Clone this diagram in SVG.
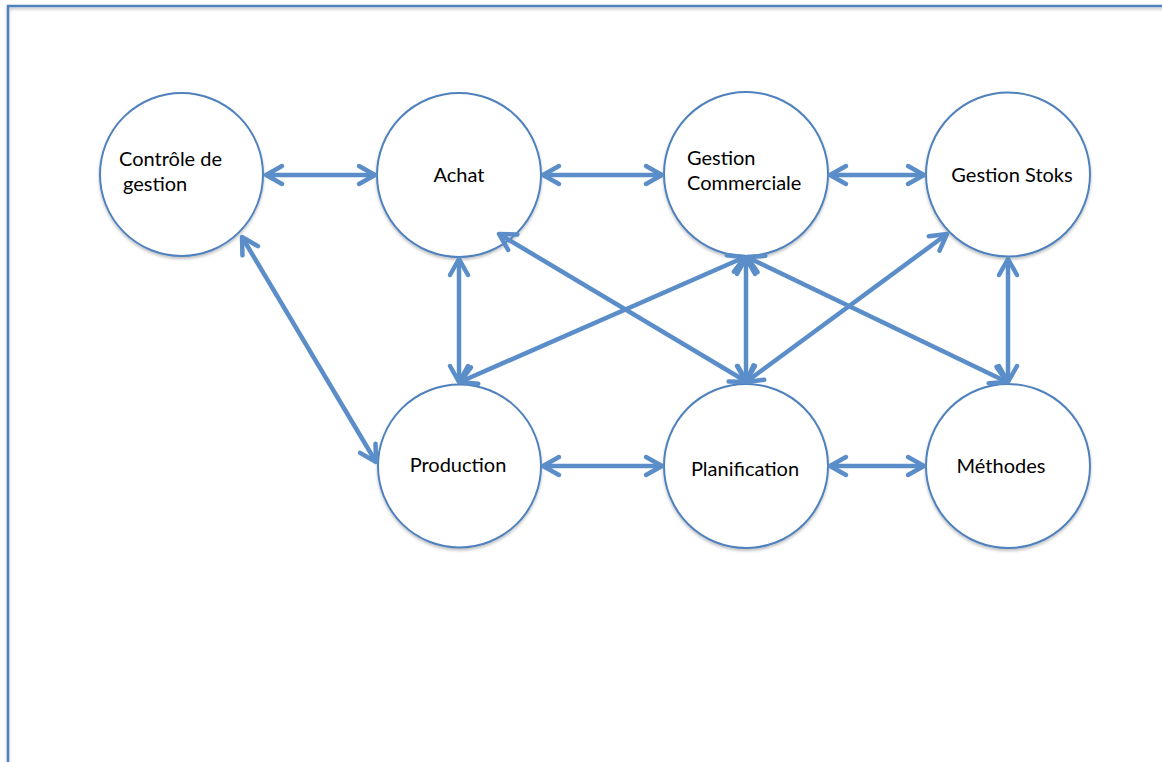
<svg xmlns="http://www.w3.org/2000/svg" width="1162" height="762" viewBox="0 0 1162 762">
<style>
.node circle{fill:#fff;stroke:#4f81bd;stroke-width:2;filter:url(#sh)}
.node text{font-family:Lato,"Liberation Sans",sans-serif;font-size:20px;fill:#000}
.conn line{stroke:#5b8ec9;stroke-width:4.5;fill:none;marker-start:url(#ah);marker-end:url(#ah)}
</style>
<defs>
<filter id="sh" x="-20%" y="-20%" width="140%" height="140%">
<feDropShadow dx="0" dy="2" stdDeviation="1.5" flood-color="#000" flood-opacity="0.25"/>
</filter>
<marker id="ah" markerUnits="userSpaceOnUse" viewBox="-4 -4 26 26" markerWidth="26" markerHeight="26" refX="16" refY="9" orient="auto-start-reverse" overflow="visible">
<path d="M0,0 L16,9 L0,18" fill="none" stroke="#5b8ec9" stroke-width="4.5" stroke-linecap="round" stroke-linejoin="round"/>
</marker>
</defs>
<rect width="1162" height="762" fill="#fff"/>
<rect x="8" y="6" width="1180" height="790" fill="none" stroke="#4f81bd" stroke-width="2.5" filter="url(#sh)"/>
<g id="controle" class="node">
<circle cx="181.5" cy="174.5" r="81.5"/>
<text x="119" y="166">Contrôle de</text>
<text x="123" y="191">gestion</text>
</g>
<g id="achat" class="node">
<circle cx="459" cy="175" r="82"/>
<text x="459" y="182" text-anchor="middle">Achat</text>
</g>
<g id="gestion-commerciale" class="node">
<circle cx="746" cy="174" r="82"/>
<text x="687" y="165">Gestion</text>
<text x="687" y="190">Commerciale</text>
</g>
<g id="gestion-stoks" class="node">
<circle cx="1008" cy="174.5" r="82"/>
<text x="1012" y="182" text-anchor="middle">Gestion Stoks</text>
</g>
<g id="production" class="node">
<circle cx="459.5" cy="466" r="81.5"/>
<text x="458" y="472" text-anchor="middle">Production</text>
</g>
<g id="planification" class="node">
<circle cx="746" cy="466" r="82"/>
<text x="745" y="476" text-anchor="middle">Planification</text>
</g>
<g id="methodes" class="node">
<circle cx="1008" cy="466" r="82"/>
<text x="1001" y="473" text-anchor="middle">Méthodes</text>
</g>
<g id="connectors" class="conn">
<line x1="266" y1="175" x2="375" y2="175"/>
<line x1="543" y1="175" x2="662" y2="175"/>
<line x1="830" y1="175" x2="924" y2="175"/>
<line x1="543" y1="466" x2="662" y2="466"/>
<line x1="830" y1="466" x2="924" y2="466"/>
<line x1="242" y1="237" x2="376" y2="462"/>
<line x1="459" y1="259" x2="459" y2="382"/>
<line x1="746" y1="258" x2="746" y2="382"/>
<line x1="1008" y1="259" x2="1008" y2="382"/>
<line x1="499" y1="234" x2="747" y2="382"/>
<line x1="460" y1="382" x2="745" y2="257"/>
<line x1="747" y1="257" x2="1007" y2="382"/>
<line x1="746" y1="382" x2="947" y2="234"/>
</g>
</svg>
